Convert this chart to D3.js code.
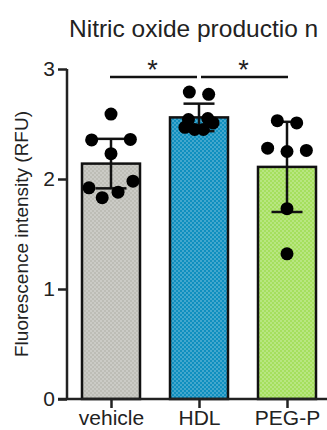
<!DOCTYPE html>
<html><head><meta charset="utf-8">
<script src="https://cdn.jsdelivr.net/npm/d3@7"></script>
<style>
html,body{margin:0;padding:0;background:#fff;}
svg{display:block;}
text{font-family:"Liberation Sans",Arial,sans-serif;fill:#222;}
</style></head><body>
<svg id="c" width="327" height="430"></svg>
<script>
const categories = ["vehicle", "HDL", "PEG-P"];
const means = [2.14, 2.56, 2.11];
const errs = [0.225, 0.125, 0.41];
const points = [
  [2.59, 2.355, 2.36, 2.23, 1.92, 1.83, 1.88, 1.98],
  [2.79, 2.77, 2.54, 2.55, 2.47, 2.45, 2.45, 2.51],
  [2.53, 2.51, 2.28, 2.25, 2.26, 1.73, 1.32]
];
const jitter = [
  [0, -0.22, 0.22, 0, -0.25, -0.10, 0.08, 0.25],
  [-0.11, 0.11, -0.12, 0.10, -0.16, -0.05, 0.05, 0.16],
  [-0.11, 0.11, -0.22, 0, 0.22, 0, 0]
];
const yTicks = [0, 1, 2, 3];
const colors = ["#bdbdb6", "#0f8fbf", "#a5df5e"];
const sigPairs = [[0, 1], [1, 2]];
const sigY = 2.927;
const title = "Nitric oxide productio n";
const yLabel = "Fluorescence intensity (RFU)";

const svg = d3.select("#c");
const y = d3.scaleLinear().domain([0, 3]).range([399, 69]);
const x = d3.scalePoint().domain(categories).range([111, 287]);
const barW = 58;

// patterns
const defs = svg.append("defs");
colors.forEach((c, i) => {
  const p = defs.append("pattern").attr("id", "pat" + i)
    .attr("patternUnits", "userSpaceOnUse").attr("width", 4).attr("height", 4);
  p.append("rect").attr("width", 4).attr("height", 4).attr("fill", c);
  p.append("rect").attr("x", 0.5).attr("y", 0.5).attr("width", 1).attr("height", 1).attr("fill", "#fff").attr("opacity", 0.85);
  p.append("rect").attr("x", 2.5).attr("y", 2.5).attr("width", 1).attr("height", 1).attr("fill", "#fff").attr("opacity", 0.85);
});

// title
svg.append("text").attr("x", 69).attr("y", 37).attr("font-size", 24.5).text(title);

// y label
svg.append("text").attr("transform", "translate(28,234) rotate(-90)")
  .attr("text-anchor", "middle").attr("font-size", 19).text(yLabel);

// bars
svg.selectAll("rect.bar").data(categories).join("rect").attr("class", "bar")
  .attr("x", d => x(d) - barW / 2).attr("width", barW)
  .attr("y", (d, i) => y(means[i])).attr("height", (d, i) => y(0) - y(means[i]))
  .attr("fill", (d, i) => `url(#pat${i})`)
  .attr("stroke", "#111").attr("stroke-width", 2.5);

// error bars
const eg = svg.append("g").attr("stroke", "#111").attr("stroke-width", 2.5);
categories.forEach((c, i) => {
  const cx = x(c);
  eg.append("line").attr("x1", cx).attr("x2", cx).attr("y1", y(means[i] + errs[i])).attr("y2", y(means[i] - errs[i]));
  [means[i] + errs[i], means[i] - errs[i]].forEach(v => {
    eg.append("line").attr("x1", cx - 15.5).attr("x2", cx + 15.5).attr("y1", y(v)).attr("y2", y(v));
  });
});

// dots
const step = x.step();
categories.forEach((c, i) => {
  svg.append("g").selectAll("circle").data(points[i]).join("circle")
    .attr("cx", (d, j) => x(c) + jitter[i][j] * step)
    .attr("cy", d => y(d)).attr("r", 6.5).attr("fill", "#000");
});

// axes
const yAxis = svg.append("g").attr("transform", "translate(67,0)")
  .call(d3.axisLeft(y).tickValues(yTicks).tickFormat(d3.format("d")).tickSize(9).tickPadding(3));
yAxis.select(".domain").attr("stroke", "#222").attr("stroke-width", 2.5).attr("d", `M0,${y(3)}V${y(0)}`);
yAxis.selectAll(".tick line").attr("stroke", "#222").attr("stroke-width", 2.5);
yAxis.selectAll(".tick text").attr("font-size", 21).attr("fill", "#222").attr("font-family", "Liberation Sans, Arial, sans-serif");

const xAxis = svg.append("g").attr("transform", `translate(0,${y(0)})`)
  .call(d3.axisBottom(x).tickSize(9).tickPadding(2));
xAxis.select(".domain").attr("stroke", "#222").attr("stroke-width", 2.5).attr("d", "M58,0H327");
xAxis.selectAll(".tick line").attr("stroke", "#222").attr("stroke-width", 2.5);
xAxis.selectAll(".tick text").attr("font-size", 21).attr("fill", "#222").attr("font-family", "Liberation Sans, Arial, sans-serif");

// significance
sigPairs.forEach(([a, b], k) => {
  const x1 = x(categories[a]) + (k === 1 ? 2 : -1);
  const x2 = x(categories[b]) + (k === 0 ? -2 : 1);
  svg.append("line").attr("x1", x1).attr("x2", x2).attr("y1", y(sigY)).attr("y2", y(sigY))
    .attr("stroke", "#111").attr("stroke-width", 2.5);
  svg.append("text").attr("x", (x1 + x2) / 2 - 1).attr("y", y(sigY) + 2)
    .attr("text-anchor", "middle").attr("font-size", 27).text("*");
});
</script></body></html>
